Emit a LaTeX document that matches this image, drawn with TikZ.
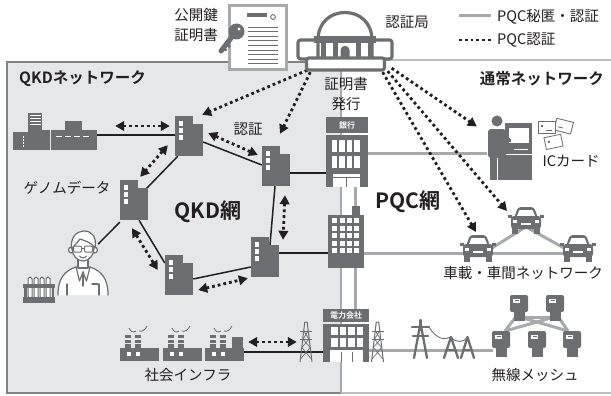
\documentclass[tikz,border=0pt]{standalone}
\usepackage{fontspec}
\setmainfont{Noto Sans CJK JP}[BoldFont={Noto Sans CJK JP Bold}]
\usetikzlibrary{arrows.meta,calc}

\definecolor{icon}{RGB}{109,110,113}
\definecolor{panel}{RGB}{230,231,232}
\definecolor{panelline}{RGB}{128,130,133}
\definecolor{pqc}{RGB}{167,169,172}
\definecolor{ink}{RGB}{35,31,32}
\definecolor{netline}{RGB}{188,190,192}

\tikzset{
  lbl/.style={font=\fontsize{14.5}{17}\selectfont, text=ink, inner sep=0pt},
  title/.style={font=\bfseries\fontsize{15.5}{18}\selectfont, text=ink, inner sep=0pt},
  big/.style={font=\bfseries\fontsize{21}{24}\selectfont, text=ink, inner sep=0pt},
  tag/.style={font=\bfseries\fontsize{8}{9}\selectfont, text=white, inner sep=0pt},
  area/.style 2 args={inner sep=0pt, minimum width=#1, minimum height=#2},
  qkdlink/.style={draw=ink, line width=1.5pt},
  pqclink/.style={draw=pqc, line width=3pt},
  dotline/.style={draw=ink, line width=2.8pt, dash pattern=on 2.8pt off 3pt},
  hd/.tip={Triangle[length=9pt,width=9.5pt]},
  dotarrow/.style={dotline, -hd},
  dotpair/.style={dotline, hd-hd},
  % QKD node building: tall block with windows and a lower annex
  qkdb/.pic={
    \fill[icon] (-14,-20) rectangle (4,20);
    \fill[icon] (4,-12) rectangle (14,20);
    \foreach \wy in {-15,-8,-1}
      \fill[white] (-10.5,\wy) rectangle (-6,\wy+4.5);
    \node[area={28pt}{40pt}] (-n) {};
  },
  % car seen from the front
  car/.pic={
    \fill[icon, rounded corners=3pt] (-8,-13) -- (8,-13) -- (12,-2) -- (-12,-2) -- cycle;
    \fill[white] (-6.5,-10) -- (6.5,-10) -- (9,-4) -- (-9,-4) -- cycle;
    \fill[icon, rounded corners=3pt] (-15,-4) rectangle (15,9);
    \fill[icon] (-18,-5) rectangle (-14,-2);
    \fill[icon] (14,-5) rectangle (18,-2);
    \fill[white] (-13,0) rectangle (-9,2.5);
    \fill[white] (9,0) rectangle (13,2.5);
    \fill[white] (-5,3) rectangle (5,5);
    \fill[icon] (-14,8) rectangle (-8,14);
    \fill[icon] (8,8) rectangle (14,14);
    \node[area={30pt}{27pt}] (-n) {};
  },
  % smart meter of the wireless mesh
  meter/.pic={
    \fill[icon, rounded corners=2pt] (-9,-13) rectangle (9,4);
    \fill[white] (-6,-9.5) rectangle (1,-5);
    \fill[icon] (-4.5,-7.8) rectangle (-0.5,-6.7);
    \fill[icon] (-5.5,3) rectangle (5.5,13);
    \node[area={18pt}{26pt}] (-n) {};
  },
  % lattice pylon
  lattice/.pic={
    \draw[icon, line width=1pt, line join=round] (-6,20) -- (-1.2,-20) -- (1.2,-20) -- (6,20);
    \draw[icon, line width=1pt] (-6,-11) -- (6,-11) (-6,-3) -- (6,-3);
    \draw[icon, line width=0.7pt] (-4.6,5) -- (5.4,17) (4.6,5) -- (-5.4,17)
      (-3.2,-3) -- (3.8,5) (3.2,-3) -- (-3.8,5) (-2,-11) -- (2.8,-3) (2,-11) -- (-2.8,-3);
  }
}

\begin{document}
\begin{tikzpicture}[x=1pt,y=-1pt]
\useasboundingbox (0,0) rectangle (611,396);
\fill[white] (0,0) rectangle (611,396);

% ---------- panels ----------
\draw[netline, line width=2pt] (341,60) rectangle (614,393);
\fill[panel] (7,62) rectangle (341,393);
\draw[panelline, line width=2pt] (341,62) -- (7,62) -- (7,393) -- (341,393);
\draw[pqc, line width=2pt] (341,62) -- (341,393);

\node[title, anchor=west] at (19,79) {QKDネットワーク};
\node[title, anchor=east] at (604,79) {通常ネットワーク};

% ---------- named areas of the icons ----------
\node[area={84pt}{37pt}] (city) at (55,131.5) {};
\node[area={42pt}{70pt}] (bank) at (347,152) {};
\node[area={36pt}{62pt}] (office) at (346,237) {};
\node[area={46pt}{53pt}] (power) at (346,335.5) {};
\node[area={45pt}{65pt}] (atm) at (509.5,147.5) {};
\node[area={96pt}{58pt}] (ca) at (344.5,41) {};
\node[area={123pt}{26pt}] (fac) at (181.5,348) {};
\node[area={26pt}{26pt}] (sci) at (83,248) {};

% ---------- PQC links ----------
\coordinate (bankout) at ($(bank.east)+(0,1)$);
\draw[pqclink] (bankout) -- (bankout -| atm.west);
\draw[pqclink] (bank.south -| 355,0) -- (power.north -| 355,0);
\coordinate (offout) at ($(office.east)+(0,16)$);
\draw[pqclink] (offout) -- (offout -| 463,0);
\draw[pqclink] (463,253) -- (563,253);
\coordinate (powout) at ($(power.east)+(0,14.5)$);
\draw[pqclink] (powout) -- (powout -| 493,0);

% cars and their links
\coordinate (c1) at (526,220);
\coordinate (c2) at (478,248);
\coordinate (c3) at (578,248);
\draw[pqclink] ($(c2)+(14,0)$) -- ($(c1)+(-2,8)$);
\draw[pqclink] ($(c1)+(2,8)$) -- ($(c3)+(-14,0)$);
\pic (car1) at (c1) {car};
\pic (car2) at (c2) {car};
\pic (car3) at (c3) {car};

% wireless mesh
\coordinate (M1) at (519,308);
\coordinate (M2) at (555,308);
\coordinate (M3) at (501,344);
\coordinate (M4) at (537,344);
\coordinate (M5) at (572,344);
\draw[pqclink] ($(M1)+(5,9)$) -- ($(M2)+(-5,9)$);
\draw[pqclink] ($(M1)+(-4,10)$) -- ($(M3)+(4,-13)$);
\draw[pqclink] ($(M2)+(4,10)$) -- ($(M5)+(-4,-13)$);
\draw[pqclink] ($(M1)+(4,10)$) -- ($(M5)+(-4,-13)$);
\draw[pqclink] ($(M2)+(-4,10)$) -- ($(M3)+(4,-13)$);
\foreach \m in {M1,M2,M3,M4,M5} \pic (\m) at (\m) {meter};

% ---------- QKD buildings and links ----------
\coordinate (p1) at (189,136);
\coordinate (p2) at (276,166);
\coordinate (p3) at (134,200);
\coordinate (p4) at (179,275);
\coordinate (p5) at (265,257);
\foreach \i in {1,...,5} \node[area={28pt}{40pt}] (B\i-n) at (p\i) {};

\draw[qkdlink] ($(B1-n.south west)+(3,0)$) -- ($(B3-n.north east)+(-2,9)$);
\draw[qkdlink] ($(B1-n.east)+(0,6)$) -- ($(B2-n.west)+(0,-1)$);
\draw[qkdlink] ($(B2-n.south)+(-1,0)$) -- ($(B5-n.north)+(5,8)$);
\draw[qkdlink] ($(B5-n.west)+(0,10)$) -- ($(B4-n.east)+(0,4)$);
\draw[qkdlink] ($(B3-n.south)+(5,0)$) -- ($(B4-n.west)+(0,-12)$);
\coordinate (b1in) at ($(B1-n.west)+(0,-1)$);
\draw[qkdlink] (b1in) -- (b1in -| city.east);
\coordinate (b2out) at ($(B2-n.east)+(0,7)$);
\draw[qkdlink] (b2out) -- (b2out -| bank.west);
\coordinate (b5out) at ($(B5-n.east)+(0,-4)$);
\draw[qkdlink] (b5out) -- (b5out -| office.west);
\draw[qkdlink] ($(B3-n.south west)+(0,2)$) -- ($(sci.east)+(2,-4)$);
\coordinate (facout) at ($(fac.east)+(0,4)$);
\draw[qkdlink] (facout) -- (facout -| power.west);

\foreach \i in {1,...,5} \pic at (p\i) {qkdb};

% ---------- city skyline ----------
\begin{scope}[icon]
  \fill (13,132) rectangle (28,150);
  \fill (28,113) rectangle (42,150);
  \fill (42,130) rectangle (50,150);
  \fill (50.8,130) rectangle (97,150);
  \fill (65,121) rectangle (82,130);
\end{scope}
\foreach \sy in {115.5,118.5,121.5,124.5} \draw[white, line width=0.7pt] (29.5,\sy) -- (40.5,\sy);
\draw[white, line width=1pt, dash pattern=on 1.5pt off 1.5pt] (23,136) -- (23,148);
\draw[white, line width=1.6pt, dash pattern=on 6pt off 3pt] (56,136.5) -- (91,136.5);

% ---------- bank ----------
\fill[icon] (326,117) rectangle (368,133);
\node[tag] at (347,125) {銀行};
\fill[icon] (326,134.5) rectangle (368,187);
\foreach \wx in {331.7,339.3,346.7,354.3}
  \foreach \wy in {140,156}
    \fill[white] (\wx,\wy) rectangle (\wx+5.6,\wy+11.5);
\fill[white] (333,174) rectangle (359.5,187);
\fill[icon] (333,176.6) rectangle (359.5,177.8);
\fill[icon] (346,177.8) rectangle (347.2,187);

% ---------- office ----------
\fill[icon] (352,206) rectangle (360,216);
\fill[icon] (328,215) rectangle (364,268);
\foreach \wx in {332.3,339.5,346.7,353.5}
  \foreach \wy in {218.3,225.8,233.3,240.8,248.3}
    \fill[white] (\wx,\wy) rectangle (\wx+5,\wy+5);

% ---------- power company and pylons ----------
\pic at (306,342) {lattice};
\pic at (377.5,342) {lattice};
\fill[icon] (323,309) rectangle (369,322);
\node[tag] at (346,315.7) {電力会社};
\fill[icon] (323,323.5) rectangle (369,362);
\foreach \wx in {331,339.5,348,356.5}
  \foreach \wy in {326.5,338}
    \fill[white] (\wx,\wy) rectangle (\wx+6.5,\wy+8.5);
\fill[white] (330,350) rectangle (363,362);
\draw[icon, line width=0.8pt] (341,352) -- (341,362) (352,352) -- (352,362);
\begin{scope}[icon, line width=2.3pt, line cap=round, line join=round]
  \draw (414,358) -- (420.5,323) -- (427,358);
  \draw (412,327) -- (429,327);
  \draw (413,336) -- (428,336);
  \draw (420.5,320) -- (420.5,323);
  \draw (444,358) -- (451,337) -- (458,358);
  \draw (446,350) -- (456,350);
  \draw (461,358) -- (467.5,337) -- (474,358);
  \draw (463,350) -- (472,350);
\end{scope}
\draw[icon, line width=0.9pt] (429,327) .. controls (437,340) and (445,340) .. (451,337);
\draw[icon, line width=0.9pt] (451,337) .. controls (456,343) and (463,343) .. (467.5,337);

% ---------- factories ----------
\foreach \fx in {120,163,205} {
  \fill[icon] (\fx,348) rectangle (\fx+39,361);
  \fill[white] (\fx+7,352) rectangle (\fx+11,356);
  \fill[white] (\fx+16,352) rectangle (\fx+20,356);
  \foreach \sx in {5,15} {
    \fill[icon] (\fx+\sx,335) rectangle (\fx+\sx+6,338);
    \fill[icon] (\fx+\sx,339.5) rectangle (\fx+\sx+6,342.5);
    \fill[icon] (\fx+\sx,344) rectangle (\fx+\sx+6,348);
  }
  \draw[icon, line width=0.8pt] (\fx+9,328) .. controls (\fx+11,332) and (\fx+13,333) .. (\fx+16,331);
  \draw[icon, line width=0.8pt] (\fx+19,331) .. controls (\fx+22,332) and (\fx+25,330) .. (\fx+27,326);
}
\fill[icon] (232,337) rectangle (243,361);

% ---------- scientist and test tubes ----------
\begin{scope}[draw=icon, fill=white, line width=1.2pt, line join=round, line cap=round]
  \filldraw (58,295) .. controls (58,279) and (64,271) .. (76,267) -- (90,267)
    .. controls (102,271) and (108,279) .. (108,295);
  \draw (76,267) -- (79.5,281) -- (83,272) -- (86.5,281) -- (90,267);
  \draw (83,272) -- (83,286);
  \draw (67,284) -- (67,295) (99,284) -- (99,295);
  \draw (92,284) -- (98,284);
  \filldraw (78,257) -- (78,268) -- (88,268) -- (88,257);
  \filldraw (71.5,250) circle (3);
  \filldraw (94.5,250) circle (3);
  \filldraw (83,248) ellipse (11 and 13);
  \filldraw (71.5,249) .. controls (70,237) and (77,231) .. (84,231)
    .. controls (92,231) and (97,237) .. (95,248)
    .. controls (92,243) and (86,241) .. (80,239)
    .. controls (77,243) and (74,246) .. (71.5,249) -- cycle;
  \draw[line width=1pt, rounded corners=1pt] (73.5,246) rectangle (81.5,252) (84.5,246) rectangle (92.5,252);
  \draw[line width=1pt] (81.5,248) -- (84.5,248);
  \draw[line width=1pt] (79.5,256) .. controls (81.5,258.5) and (84.5,258.5) .. (86.5,256);
\end{scope}
\begin{scope}[icon]
  \foreach \tx in {28,34,40,46}
    \draw[line width=1pt, fill=white, rounded corners=1.8pt] (\tx,298) -- (\tx,277) -- (\tx+4,277) -- (\tx+4,298);
  \fill (23,284) rectangle (55,288);
  \fill (23,297) rectangle (55,303);
  \fill (24,284) rectangle (26.5,303);
  \fill (51.5,284) rectangle (54,303);
\end{scope}

% ---------- ATM user and IC cards ----------
\fill[icon] (505,123) rectangle (532,180);
\fill[white] (508.5,128) rectangle (528.5,143);
\draw[white, line width=1pt] (514,149) -- (528,149);
\draw[white, line width=1pt] (505,154) -- (532,154);
\fill[icon] (497,121) circle (5.5);
\fill[icon, rounded corners=3pt] (488,129) rectangle (506,158);
\fill[icon] (489.5,155) rectangle (496.6,180);
\fill[icon] (497.6,155) rectangle (504.5,180);
\draw[icon, line width=3.5pt, line cap=round] (503,134) -- (510,141);
\begin{scope}[icon, line width=0.8pt, fill=white]
  \filldraw[rotate around={-14:(563,127)}] (555,120) rectangle (572,132);
  \draw[rotate around={-14:(563,127)}] (558,128) -- (563,128);
  \filldraw (538,121) rectangle (555,133);
  \fill[icon] (541,125) rectangle (543,127);
  \draw (546,130) -- (552,130);
  \filldraw[rotate around={12:(553,142)}] (545,136) rectangle (562,148);
  \fill[icon, rotate around={12:(553,142)}] (548,140) rectangle (550,142);
\end{scope}

% ---------- quantum key distribution pairs ----------
\draw[dotpair] ($(city.east)+(18,-5.5)$) -- ($(B1-n.west)+(-5,-10)$);
\draw[dotpair] ($(B1-n.south west)+(-7,-11)$) -- ($(B3-n.north east)+(-8,-3)$);
\draw[dotpair] ($(B1-n.east)+(5,-3)$) -- ($(B2-n.west)+(-4,-11)$);
\draw[dotpair] ($(B2-n.south)+(9,9)$) -- ($(B5-n.north)+(18,3)$);
\draw[dotpair] ($(B3-n.south)+(-2,8)$) -- ($(B4-n.west)+(-7,-5)$);
\draw[dotpair] ($(B4-n.east)+(5,15)$) -- ($(B5-n.south west)+(-3,1)$);
\draw[dotpair] ($(fac.east)+(5,-6)$) -- ($(power.west)+(-26,6.5)$);

% ---------- certification authority ----------
\draw[dotarrow] ($(ca.south west)+(11,0)$) -- ($(B1-n.north east)+(-1,-1)$);
\draw[dotarrow] ($(ca.south west)+(14,2)$) -- ($(B2-n.north)+(4,-12)$);
\draw[dotarrow] ($(ca.south east)+(-1,-2)$) -- ($(atm.west)+(-10,-21)$);
\draw[dotarrow] ($(ca.south east)+(-5,1)$) -- ($(car1-n)+(-19,-9)$);
\draw[dotarrow] ($(ca.south east)+(-10,2)$) -- ($(car2-n)+(-2,-16)$);

\begin{scope}[draw=icon, line width=3.2pt, line join=round]
  \filldraw[fill=white] (318,40) .. controls (318,23) and (330,12.5) .. (345,12.5)
    .. controls (360,12.5) and (372,23) .. (372,40) -- cycle;
  \filldraw[fill=white, rounded corners=2.5pt] (298,40) rectangle (318,59);
  \filldraw[fill=white, rounded corners=2.5pt] (372,40) rectangle (392,59);
  \fill[icon] (314,36.5) rectangle (376,43);
  \foreach \cx in {321,333,356,368} \fill[icon] (\cx,43) rectangle (\cx+4.5,58);
  \fill[icon] (340.5,58) -- (340.5,50) .. controls (340.5,44.5) and (349.5,44.5) .. (349.5,50) -- (349.5,58) -- cycle;
  \filldraw[fill=white, rounded corners=2.5pt] (306.5,58) rectangle (384.5,70);
\end{scope}

% ---------- public key certificate ----------
\node[area={57pt}{64pt}] (doc) at (258,37.5) {};
\filldraw[fill=white, draw=pqc, line width=2.5pt] (doc.north west) rectangle (doc.south east);
\fill[icon] (247,13) rectangle (267,17);
\draw[icon, line width=0.9pt] (273,17) circle (2.4);
\foreach \ly in {27,31.6,...,66} \draw[icon, line width=0.9pt] (248,\ly) -- (278,\ly);
\draw[icon, line width=5pt, line cap=round] (235,33) -- (221,51);
\draw[icon, line width=2.5pt] (226.5,44) -- (230,47) (223.5,48) -- (226.5,50.5);
\fill[icon] (236.5,31.5) circle (8);
\fill[white] (239,29) circle (1.6);

% ---------- labels ----------
\node[lbl, align=center, font=\fontsize{14.5}{20.5}\selectfont] at (196,25) {公開鍵\\証明書};
\node[lbl] at (407,22) {認証局};
\node[lbl, align=center, font=\fontsize{14.5}{19.5}\selectfont] at (346,94) {証明書\\発行};
\node[lbl] at (248,129) {認証};
\node[lbl] at (67,188) {ゲノムデータ};
\node[big] at (208,212) {QKD網};
\node[big] at (408,202) {PQC網};
\node[lbl] at (571,161) {ICカード};
\node[lbl] at (523,273) {車載・車間ネットワーク};
\node[lbl] at (188,375) {社会インフラ};
\node[lbl] at (535,375) {無線メッシュ};

% ---------- legend ----------
\coordinate (lg1a) at (459,16);
\coordinate (lg1b) at (491,16);
\coordinate (lg2a) at (459,40);
\coordinate (lg2b) at (491,40);
\draw[pqclink] (lg1a) -- (lg1b);
\draw[dotline] (lg2a) -- (lg2b);
\node[lbl, anchor=west] at (497,17) {PQC秘匿・認証};
\node[lbl, anchor=west] at (497,40) {PQC認証};
\end{tikzpicture}
\end{document}
